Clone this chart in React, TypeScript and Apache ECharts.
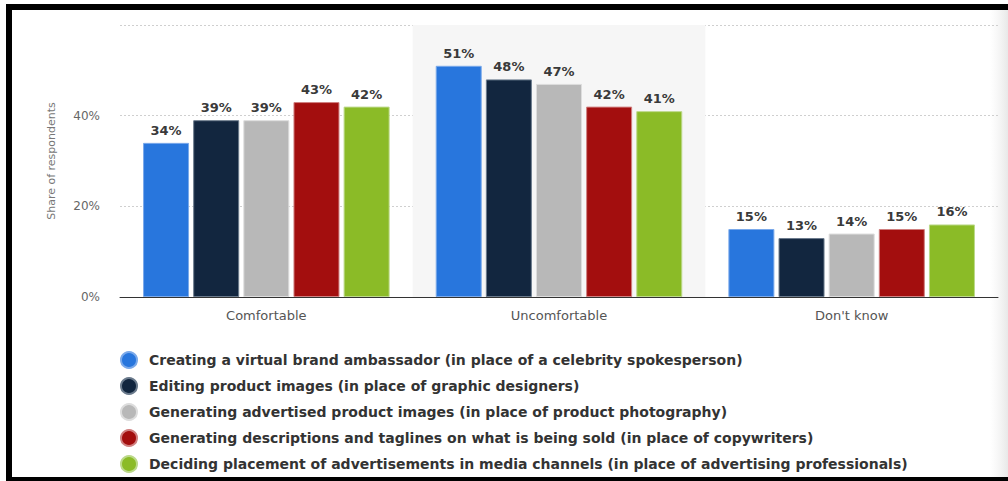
import React, { useEffect, useRef } from "react";
import * as echarts from "echarts";

const categories = ["Comfortable", "Uncomfortable", "Don't know"];
const seriesNames = [
  "Creating a virtual brand ambassador (in place of a celebrity spokesperson)",
  "Editing product images (in place of graphic designers)",
  "Generating advertised product images (in place of product photography)",
  "Generating descriptions and taglines on what is being sold (in place of copywriters)",
  "Deciding placement of advertisements in media channels (in place of advertising professionals)",
];
const ambassador = [34, 51, 15];
const editing = [39, 48, 13];
const generatingImages = [39, 47, 14];
const descriptions = [43, 42, 15];
const placement = [42, 41, 16];
const seriesValues = [ambassador, editing, generatingImages, descriptions, placement];
const colors = ["#2876dd", "#12263f", "#b8b8b8", "#a30e0e", "#8bbb27"];
const borderColors = ["#7aa9ea", "#6a7a8c", "#dddddd", "#d08080", "#bcd98a"];

const FONT = "'DejaVu Sans', 'Open Sans', sans-serif";

export default function App() {
  const ref = useRef<HTMLDivElement>(null);
  useEffect(() => {
    document.body.style.margin = "0";
    const chart = echarts.init(ref.current!, null, { renderer: "svg" });
    chart.setOption({
      animation: false,
      backgroundColor: "#ffffff",
      textStyle: { fontFamily: FONT },
      grid: { left: 120, right: 10, top: 25, bottom: 184 },
      graphic: [
        { type: "rect", shape: { x: 990, y: 10, width: 18, height: 467 }, style: { fill: new echarts.graphic.LinearGradient(0, 0, 1, 0, [{ offset: 0, color: "rgba(240,240,240,0)" }, { offset: 1, color: "#e8e8e8" }]) }, silent: true },
        { type: "rect", shape: { x: 6, y: 4, width: 1002, height: 6 }, style: { fill: "#000" }, silent: true },
        { type: "rect", shape: { x: 6, y: 4, width: 6, height: 477 }, style: { fill: "#000" }, silent: true },
        { type: "rect", shape: { x: 6, y: 477, width: 1002, height: 4 }, style: { fill: "#000" }, silent: true },
      ],
      legend: {
        orient: "vertical",
        left: 120,
        top: 350,
        height: 200,
        padding: 0,
        itemGap: 6,
        itemWidth: 16,
        itemHeight: 16,
        icon: "circle",
        textStyle: { fontFamily: FONT, fontSize: 14, lineHeight: 20, color: "#333", fontWeight: 600, padding: [0, 0, 0, 7] },
        data: seriesNames,
      },
      xAxis: {
        type: "category",
        data: categories,
        axisLine: { lineStyle: { color: "#333", width: 1 } },
        axisTick: { show: false },
        axisLabel: { fontFamily: FONT, fontSize: 13, color: "#555", margin: 12 },
        splitArea: { show: true, areaStyle: { color: ["rgba(255,255,255,0)", "#f6f6f6", "rgba(255,255,255,0)"] } },
      },
      yAxis: {
        type: "value",
        min: 0,
        max: 60,
        interval: 20,
        name: "Share of respondents",
        nameLocation: "middle",
        nameGap: 63,
        nameTextStyle: { fontFamily: FONT, fontSize: 11, color: "#777" },
        axisLine: { show: false },
        axisTick: { show: false },
        axisLabel: {
          fontFamily: FONT,
          fontSize: 12,
          color: "#666",
          margin: 20,
          formatter: (v: number) => (v === 60 ? "" : v + "%"),
        },
        splitLine: { lineStyle: { color: "#cfcfcf", type: [2, 2] } },
      },
      series: seriesNames.map((name, i) => ({
        name,
        type: "bar",
        data: seriesValues[i],
        barWidth: 46,
        barGap: "9%",
        itemStyle: { color: colors[i], borderColor: borderColors[i], borderWidth: 1 },
        label: {
          show: true,
          position: "top",
          distance: 6,
          formatter: "{c}%",
          fontFamily: FONT,
          fontSize: 13,
          fontWeight: 600,
          color: "#3a3a3a",
        },
      })),
    });
    return () => chart.dispose();
  }, []);
  return <div ref={ref} style={{ width: 1008, height: 481 }} />;
}
